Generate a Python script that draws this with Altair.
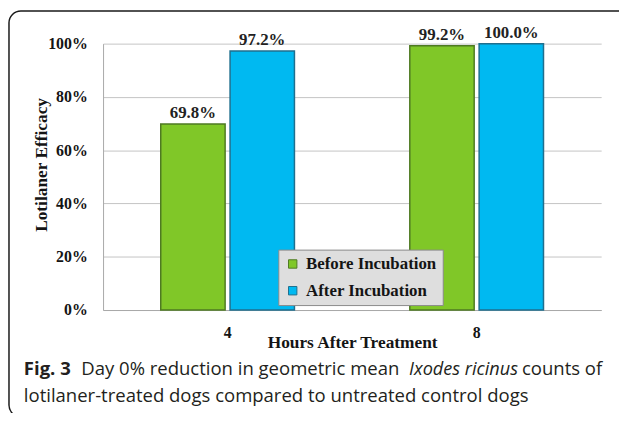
import altair as alt
import pandas as pd

# ---- data ----
hours = ["4", "8"]
series = ["Before Incubation", "After Incubation"]
before = [69.8, 99.2]
after = [97.2, 100.0]
y_ticks = [0, 20, 40, 60, 80, 100]
x_title = "Hours After Treatment"
y_title = "Lotilaner Efficacy"
caption_bold = "Fig. 3"
caption_1a = "Day 0% reduction in geometric mean"
caption_italic = "Ixodes ricinus"
caption_1b = "counts of"
caption_2 = "lotilaner-treated dogs compared to untreated control dogs"

fills = ["#80c728", "#00b9f1"]
strokes = ["#4e7a22", "#1f6f8e"]

rows = []
for i, h in enumerate(hours):
    rows.append({"hours": h, "series": series[0], "value": before[i]})
    rows.append({"hours": h, "series": series[1], "value": after[i]})
df = pd.DataFrame(rows)

SERIF = "Liberation Serif"
SANS = "Open Sans"
TXT = "#141414"

# plot area origin on page: (104, 42); size 503 x 269
OX, OY = 104, 42

x_enc = alt.X(
    "hours:N", sort=hours,
    scale=alt.Scale(paddingInner=0, paddingOuter=0),
    axis=alt.Axis(
        title=x_title, labelAngle=0, ticks=False, domainColor="#a8a8a8", domainWidth=1,
        labelFont=SERIF, labelFontWeight="bold", labelFontSize=16, labelColor=TXT,
        labelBaseline="alphabetic", labelPadding=28,
        titleFont=SERIF, titleFontWeight="bold", titleFontSize=17.5, titleColor=TXT,
        titleBaseline="alphabetic", titleY=38,
    ),
)
xoff = alt.XOffset("series:N", sort=series,
                   scale=alt.Scale(paddingInner=0.0714, paddingOuter=0.832))
y_enc = alt.Y(
    "value:Q", scale=alt.Scale(domain=[0, 100], nice=False),
    axis=alt.Axis(
        values=y_ticks, labelExpr="datum.value + '%'", ticks=False,
        grid=True, gridColor="#c4c4c4", gridWidth=1,
        domainColor="#a8a8a8", domainWidth=1,
        labelFont=SERIF, labelFontWeight="bold", labelFontSize=16, labelColor=TXT,
        labelPadding=16,
        title=y_title, titleFont=SERIF, titleFontWeight="bold", titleFontSize=17.5,
        titleColor=TXT, titleAlign="center", titleBaseline="middle",
        titleX=42 - OX, titleY=164 - OY, titleAngle=270,
    ),
)

base = alt.Chart(df)

bars = base.mark_bar(strokeWidth=1.5).encode(
    x=x_enc, xOffset=xoff, y=y_enc,
    color=alt.Color(
        "series:N", sort=series,
        scale=alt.Scale(domain=series, range=fills),
        legend=alt.Legend(
            title=None, orient="none", legendX=281 - OX, legendY=250 - OY,
            fillColor="#dedede", strokeColor="#8a8a8a", padding=6,
            symbolType="square", symbolSize=72, symbolStrokeColor="#4a4a4a",
            symbolStrokeWidth=1,
            labelFont=SERIF, labelFontWeight="bold", labelFontSize=17,
            labelColor=TXT, labelOffset=5, rowPadding=9,
        ),
    ),
    stroke=alt.Stroke("series:N", sort=series,
                      scale=alt.Scale(domain=series, range=strokes), legend=None),
)

labels = base.transform_calculate(
    lab="format(datum.value, '.1f') + '%'"
).mark_text(
    dy=-6, baseline="alphabetic", font=SERIF, fontWeight="bold", fontSize=17, color="#222222"
).encode(x=x_enc, xOffset=xoff, y=y_enc, text="lab:N")


def cap(text, x, y, weight="normal", style="normal", size=18.7):
    return alt.Chart(pd.DataFrame({"t": [text]})).mark_text(
        align="left", baseline="alphabetic", font=SANS, fontSize=size,
        fontWeight=weight, fontStyle=style, color="#231f20",
    ).encode(x=alt.value(x - OX), y=alt.value(y - OY), text="t:N")


border = alt.Chart(pd.DataFrame({"t": [0]})).mark_rect(
    fillOpacity=0, stroke="#1a1a1a", strokeWidth=1.5, cornerRadius=12
).encode(
    x=alt.value(9 - OX), x2=alt.value(640 - OX),
    y=alt.value(9 - OY), y2=alt.value(419 - OY),
)

chart = alt.layer(
    border, bars, labels,
    cap(caption_bold, 24, 377, weight="bold"),
    cap(caption_1a, 82, 377),
    cap(caption_italic, 413, 377, style="italic", size=18.3),
    cap(caption_1b, 527, 377),
    cap(caption_2, 24, 404),
).properties(
    width=503, height=269,
    autosize=alt.AutoSizeParams(type="none"),
    padding={"left": 96, "top": 34, "right": 18, "bottom": 102},
    background="white",
).configure_view(strokeWidth=0)

chart.save("out.html", embed_options={"renderer": "svg", "actions": False})
